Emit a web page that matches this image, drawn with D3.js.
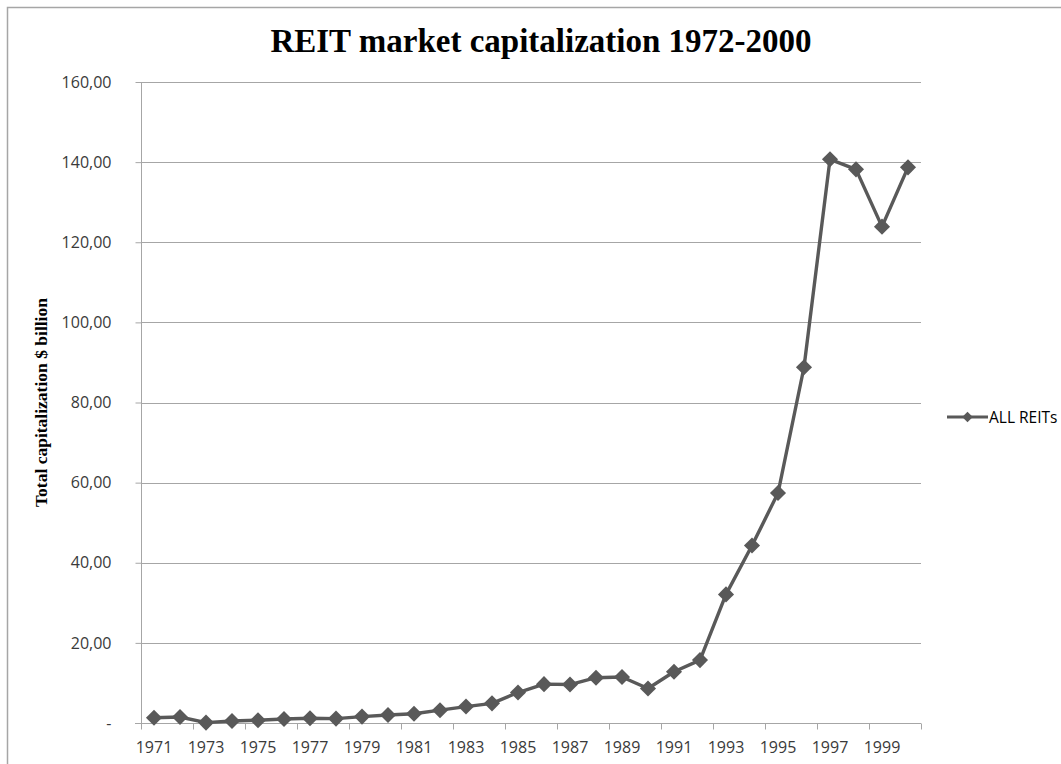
<!DOCTYPE html>
<html>
<head>
<meta charset="utf-8">
<script src="https://cdn.jsdelivr.net/npm/d3@7/dist/d3.min.js"></script>
<style>
  html, body { margin: 0; padding: 0; background: #fff; }
  svg { display: block; }
</style>
</head>
<body>
<svg id="chart" width="1061" height="764"></svg>
<script>
// Years on the category axis
const years = d3.range(1971, 2001);
// Total capitalization of all REITs, $ billion
const allReits = [1.3, 1.5, 0.1, 0.5, 0.7, 1.0, 1.2, 1.1, 1.6, 2.0,
                  2.3, 3.2, 4.1, 4.9, 7.6, 9.7, 9.6, 11.3, 11.5, 8.6,
                  12.8, 15.7, 32.1, 44.3, 57.4, 88.8, 140.7, 138.2, 123.9, 138.7];
// Value axis ticks
const yTicks = [0, 20, 40, 60, 80, 100, 120, 140, 160];
const titleText = "REIT market capitalization 1972-2000";
const yTitle = "Total capitalization $ billion";
const seriesName = "ALL REITs";

const svg = d3.select("#chart");
const W = 1061, H = 764;
const m = { left: 141, right: 921, top: 82, bottom: 723 };
const sansFont = "'Open Sans', 'Liberation Sans', sans-serif";
const serifFont = "'Liberation Serif', 'Times New Roman', serif";

// Outer frame (only top and left edges fall inside the view)
svg.append("rect")
  .attr("x", 7.5).attr("y", 7.5)
  .attr("width", W + 20).attr("height", H + 20)
  .attr("fill", "none").attr("stroke", "#a6a6a6").attr("stroke-width", 1.5);

const x = d3.scaleBand().domain(years).range([m.left, m.right]).padding(0);
const y = d3.scaleLinear().domain([0, 160]).range([m.bottom, m.top]);

const fmt = v => v === 0 ? "-" : d3.format(".2f")(v).replace(".", ",");

// Gridlines
svg.append("g").selectAll("line")
  .data(yTicks.filter(d => d > 0))
  .join("line")
  .attr("x1", m.left).attr("x2", m.right)
  .attr("y1", d => Math.round(y(d)) + 0.5).attr("y2", d => Math.round(y(d)) + 0.5)
  .attr("stroke", "#a6a6a6").attr("stroke-width", 1);

// Y axis
const yAxis = svg.append("g")
  .attr("transform", `translate(${m.left + 0.5},0)`)
  .call(d3.axisLeft(y).tickValues(yTicks).tickSize(6).tickPadding(24).tickFormat(fmt));
yAxis.attr("font-size", null).attr("font-family", null);
yAxis.select(".domain").attr("stroke", "#a6a6a6").attr("d", `M0,${m.top}V${m.bottom}`);
yAxis.selectAll(".tick line").attr("stroke", "#a6a6a6");
yAxis.selectAll(".tick text")
  .style("font-family", sansFont)
  .style("font-size", "16px").attr("fill", "#3a3a3a");

// X axis: labels on every other year, tick marks at every second category boundary
const xAxisG = svg.append("g").attr("transform", `translate(0,${m.bottom + 0.5})`);
xAxisG.append("line")
  .attr("x1", m.left - 6).attr("x2", m.right)
  .attr("stroke", "#a6a6a6");
const bounds = d3.range(0, years.length + 1, 2).map(i => m.left + i * x.bandwidth());
xAxisG.selectAll(".xt").data(bounds).join("line")
  .attr("class", "xt")
  .attr("x1", d => Math.round(d) + 0.5).attr("x2", d => Math.round(d) + 0.5)
  .attr("y1", 0).attr("y2", 6)
  .attr("stroke", "#a6a6a6");
xAxisG.selectAll(".xl").data(years.filter((d, i) => i % 2 === 0)).join("text")
  .attr("class", "xl")
  .attr("x", d => x(d) + x.bandwidth() / 2)
  .attr("y", 29)
  .attr("text-anchor", "middle")
  .style("font-family", sansFont)
  .style("font-size", "16px").attr("fill", "#3a3a3a")
  .text(d => d);

// Series line
const line = d3.line()
  .x((d, i) => x(years[i]) + x.bandwidth() / 2)
  .y(d => y(d));
svg.append("path")
  .datum(allReits)
  .attr("d", line)
  .attr("fill", "none")
  .attr("stroke", "#595959")
  .attr("stroke-width", 3.4)
  .attr("stroke-linejoin", "round");

// Diamond markers
const diamond = d3.symbol().type(d3.symbolDiamond2).size(165);
svg.append("g").selectAll("path")
  .data(allReits)
  .join("path")
  .attr("transform", (d, i) => `translate(${x(years[i]) + x.bandwidth() / 2},${y(d)})`)
  .attr("d", diamond)
  .attr("fill", "#595959");

// Title
svg.append("text")
  .attr("x", 541).attr("y", 52)
  .attr("text-anchor", "middle")
  .style("font-family", serifFont)
  .attr("font-weight", "bold")
  .style("font-size", "33px")
  .attr("fill", "#000")
  .text(titleText);

// Y axis title
svg.append("text")
  .attr("transform", `translate(47,${(m.top + m.bottom) / 2}) rotate(-90)`)
  .attr("text-anchor", "middle")
  .style("font-family", serifFont)
  .attr("font-weight", "bold")
  .style("font-size", "17.5px")
  .attr("fill", "#000")
  .text(yTitle);

// Legend
const lg = svg.append("g").attr("transform", "translate(947,417)");
lg.append("line").attr("x1", 0).attr("x2", 41).attr("y1", 0).attr("y2", 0)
  .attr("stroke", "#595959").attr("stroke-width", 3.2);
lg.append("path").attr("transform", "translate(20.5,0)")
  .attr("d", d3.symbol().type(d3.symbolDiamond2).size(70)).attr("fill", "#595959");
lg.append("text").attr("x", 42).attr("y", 6)
  .style("font-family", sansFont)
  .style("font-size", "15.5px").attr("fill", "#000")
  .text(seriesName);
</script>
</body>
</html>
